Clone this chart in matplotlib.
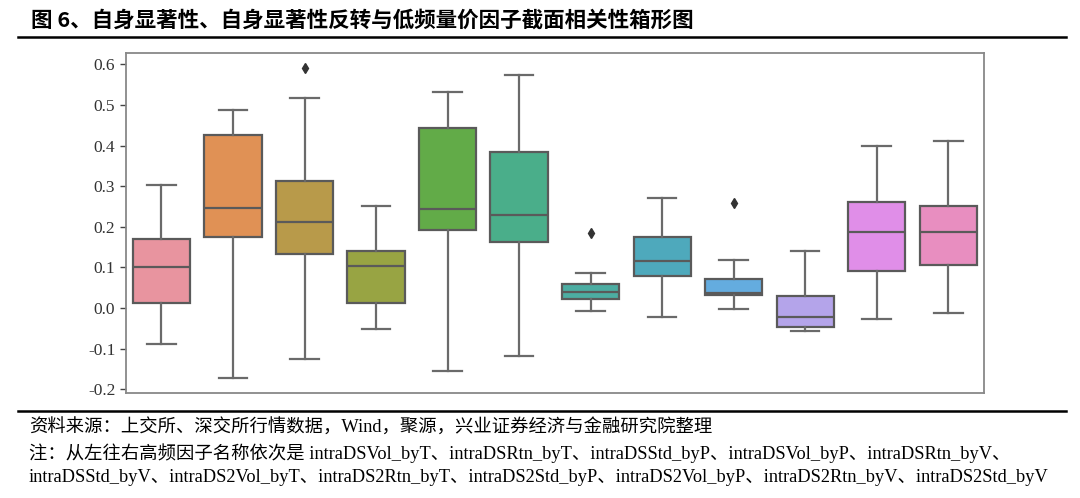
import matplotlib
matplotlib.use("Agg")
import matplotlib.pyplot as plt
from matplotlib.lines import Line2D

factors = ["intraDSVol_byT", "intraDSRtn_byT", "intraDSStd_byP", "intraDSVol_byP",
           "intraDSRtn_byV", "intraDSStd_byV", "intraDS2Vol_byT", "intraDS2Rtn_byT",
           "intraDS2Std_byP", "intraDS2Vol_byP", "intraDS2Rtn_byV", "intraDS2Std_byV"]
whislo = [-0.089, -0.173, -0.126, -0.051, -0.154, -0.117, -0.007, -0.022, -0.002, -0.056, -0.026, -0.013]
q1     = [0.013, 0.176, 0.134, 0.012, 0.192, 0.162, 0.022, 0.080, 0.031, -0.046, 0.090, 0.107]
med    = [0.101, 0.247, 0.212, 0.104, 0.245, 0.229, 0.039, 0.116, 0.037, -0.023, 0.187, 0.186]
q3     = [0.170, 0.427, 0.312, 0.141, 0.444, 0.383, 0.060, 0.174, 0.072, 0.030, 0.260, 0.252]
whishi = [0.302, 0.487, 0.516, 0.252, 0.531, 0.574, 0.086, 0.270, 0.118, 0.141, 0.399, 0.411]
fliers = [[], [], [0.592], [], [], [], [0.185], [], [0.259], [], [], []]
yticks = [-0.2, -0.1, 0.0, 0.1, 0.2, 0.3, 0.4, 0.5, 0.6]

title = "图 6、自身显著性、自身显著性反转与低频量价因子截面相关性箱形图"
source = "资料来源：上交所、深交所行情数据，Wind，聚源，兴业证券经济与金融研究院整理"
note1 = "注：从左往右高频因子名称依次是 " + "、".join(factors[:5]) + "、"
note2 = "、".join(factors[5:])

colors = ["#e8949f", "#e09155", "#b89a4a", "#98a443", "#62ab48", "#4aae8a",
          "#4cada2", "#4ea9bc", "#64acdf", "#b4a4ea", "#e08ee8", "#e88ec0"]

fig = plt.figure(figsize=(10.8, 4.98), dpi=100)
ax = fig.add_axes([0.1164, 0.2102, 0.7947, 0.684])

stats = []
for i, name in enumerate(factors):
    stats.append(dict(label=name, whislo=whislo[i], q1=q1[i], med=med[i],
                      q3=q3[i], whishi=whishi[i], fliers=fliers[i]))

lc = "#5a5a5a"
bp = ax.bxp(stats, positions=range(len(factors)), widths=0.8, patch_artist=True,
            showfliers=True, capwidths=0.4,
            boxprops=dict(edgecolor=lc, linewidth=1.6),
            medianprops=dict(color=lc, linewidth=1.6),
            whiskerprops=dict(color="#6a6a6a", linewidth=1.6),
            capprops=dict(color="#6a6a6a", linewidth=1.6),
            flierprops=dict(marker="d", markersize=5, markerfacecolor="#333333",
                            markeredgecolor="#333333", linestyle="none"))
for patch, c in zip(bp["boxes"], colors):
    patch.set_facecolor(c)

ax.set_xlim(-0.5, len(factors) - 0.5)
ax.set_ylim(-0.21, 0.6286)
ax.set_yticks(yticks)
ax.set_yticklabels([f"{v:.1f}" for v in yticks], fontfamily="Liberation Serif",
                   fontsize=12.5, color="#333333")
ax.set_xticks([])
ax.tick_params(axis="y", length=4, color="#444444", width=1)
for s in ax.spines.values():
    s.set_color("#888888")
    s.set_linewidth(1.3)

# title and rules
fig.text(31 / 1080, 1 - 20 / 498, title, fontsize=15.5, fontweight="bold",
         family=["Noto Sans CJK SC", "DejaVu Sans"], va="center", ha="left")
fig.add_artist(Line2D([18 / 1080, 1066 / 1080], [1 - 37 / 498] * 2, color="black",
                      linewidth=1.8, transform=fig.transFigure))
fig.add_artist(Line2D([18 / 1080, 1066 / 1080], [1 - 411 / 498] * 2, color="black",
                      linewidth=1.8, transform=fig.transFigure))

fam = ["Liberation Serif", "Noto Sans CJK SC"]
fs = 13.2
fig.text(29 / 1080, 1 - 428 / 498, source, fontsize=fs, family=fam, va="center", ha="left")
fig.text(29 / 1080, 1 - 453 / 498, note1, fontsize=fs, family=fam, va="center", ha="left")
fig.text(29 / 1080, 1 - 478 / 498, note2, fontsize=fs, family=fam, va="center", ha="left")

fig.savefig("out.png", dpi=100)
